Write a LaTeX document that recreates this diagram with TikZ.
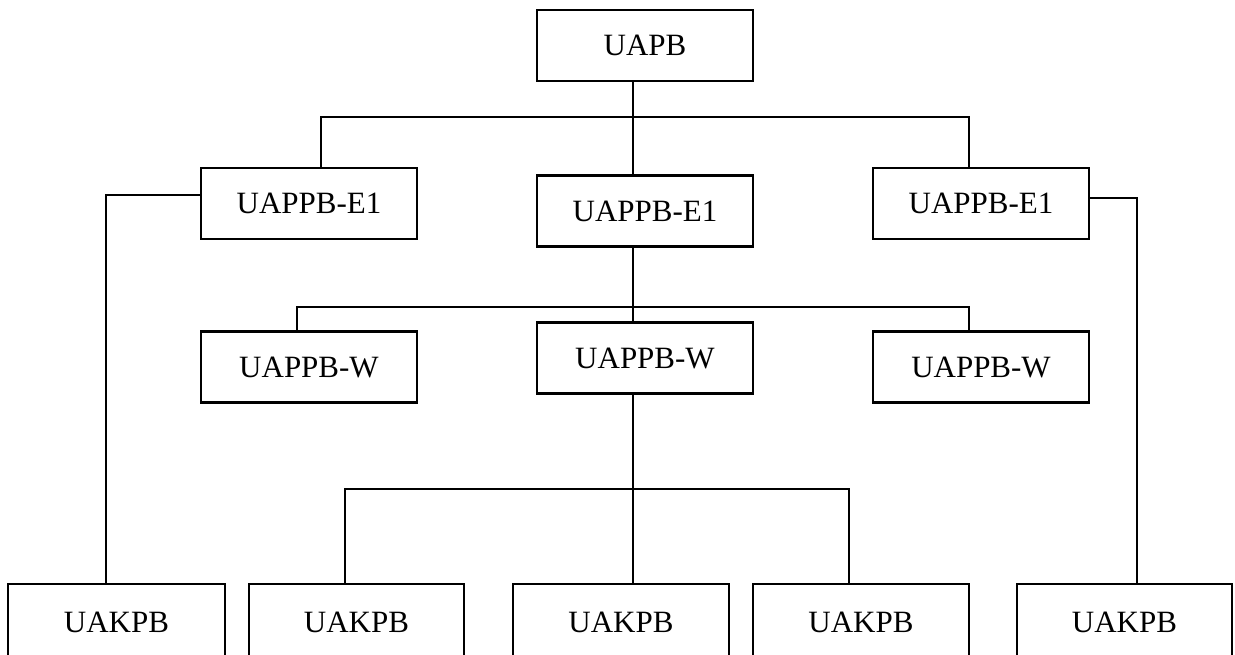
\documentclass[tikz,border=0pt]{standalone}
\usepackage{fontspec}
\setmainfont{Liberation Serif}
\begin{document}
\begin{tikzpicture}[x=1pt,y=-1pt,
  unit/.style={draw=black, line width=2.2pt, rectangle, inner sep=0pt,
    minimum width=216pt, minimum height=71pt,
    font=\fontsize{31}{36}\selectfont},
  leaf/.style={unit, minimum height=76pt},
  wire/.style={line width=2.2pt}]
\clip (0,0) rectangle (1235,654);
\useasboundingbox (0,0) rectangle (1235,654);

% top level and first tier
\node[unit] (uapb) at (645,45.5) {UAPB};
\node[unit] (e1l) at (309,203.5) {UAPPB-E1};
\node[unit] (e1m) at (645,211) {UAPPB-E1};
\node[unit] (e1r) at (981,203.5) {UAPPB-E1};

% regional units
\node[unit] (wl) at (309,367) {UAPPB-W};
\node[unit] (wm) at (645,358) {UAPPB-W};
\node[unit] (wr) at (981,367) {UAPPB-W};

% bottom row
\node[leaf, minimum width=217pt] (k1) at (116.5,622) {UAKPB};
\node[leaf, minimum width=215pt] (k2) at (356.5,622) {UAKPB};
\node[leaf] (k3) at (621,622) {UAKPB};
\node[leaf] (k4) at (861,622) {UAKPB};
\node[leaf, minimum width=215pt] (k5) at (1124.5,622) {UAKPB};

% bus junctions
\coordinate (b1l) at (321,117);
\coordinate (b1c) at (633,117);
\coordinate (b1r) at (969,117);
\coordinate (b2l) at (297,307);
\coordinate (b2c) at (633,307);
\coordinate (b2r) at (969,307);
\coordinate (b3l) at (345,489);
\coordinate (b3c) at (633,489);
\coordinate (b3r) at (849,489);
\coordinate (sl) at (106,195);
\coordinate (sr) at (1137,198);

% first bus
\draw[wire] (b1c |- uapb.south) -- (b1c |- e1m.north);
\draw[wire] (b1l |- e1l.north) -- (b1l) -- (b1r) -- (b1r |- e1r.north);

% second bus
\draw[wire] (b2c |- e1m.south) -- (b2c |- wm.north);
\draw[wire] (b2l |- wl.north) -- (b2l) -- (b2r) -- (b2r |- wr.north);

% third bus
\draw[wire] (b3c |- wm.south) -- (b3c |- k3.north);
\draw[wire] (b3l |- k2.north) -- (b3l) -- (b3r) -- (b3r |- k4.north);

% side links
\draw[wire] (sl -| e1l.west) -- (sl) -- (sl |- k1.north);
\draw[wire] (sr -| e1r.east) -- (sr) -- (sr |- k5.north);
\end{tikzpicture}
\end{document}
